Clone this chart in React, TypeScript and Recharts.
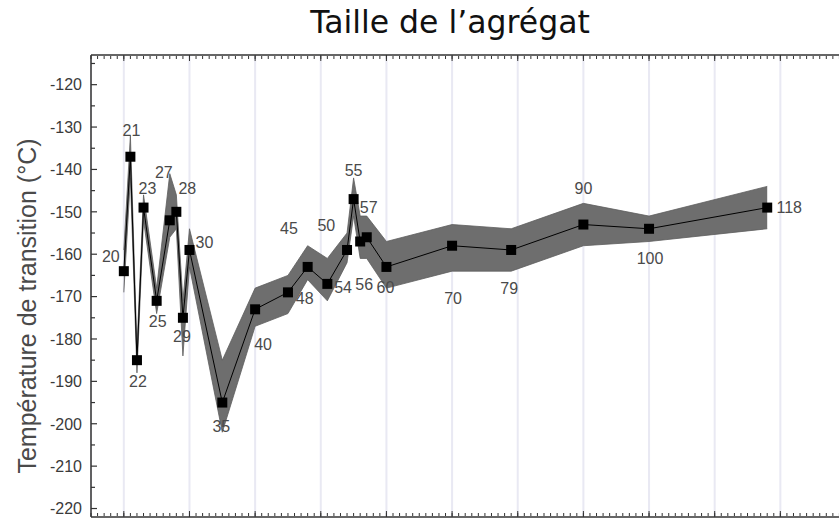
import React from 'react';
import { ComposedChart, Area, Line, XAxis, YAxis, CartesianGrid } from 'recharts';

// ---- data ----
const clusterLabels = ['20', '21', '22', '23', '25', '27', '28', '29', '30', '35', '40', '45', '48', '50', '54', '55', '56', '57', '60', '70', '79', '90', '100', '118'];
const clusterSizes = [20, 21, 22, 23, 25, 27, 28, 29, 30, 35, 40, 45, 48, 51, 54, 55, 56, 57, 60, 70, 79, 90, 100, 118];
const transitionTemps = [-164, -137, -185, -149, -171, -152, -150, -175, -159, -195, -173, -169, -163, -167, -159, -147, -157, -156, -163, -158, -159, -153, -154, -149];
const upperBound = [-159, -132, -182, -146, -168, -141, -146, -171, -154, -185, -168, -165, -158, -161, -155, -142, -151, -151, -157, -153, -154, -148, -151, -144];
const lowerBound = [-169, -142, -188, -152, -174, -156, -154, -184, -163, -202, -177, -174, -166, -171, -162, -151, -161, -161, -168, -164, -164, -158, -157, -154];

const majorXTicks = [20, 30, 40, 50, 60, 70, 80, 90, 100, 110, 120];
const minorXTicks = Array.from({ length: 116 }, (_, i) => 15 + i);
const yTickLabels = [-220, -210, -200, -190, -180, -170, -160, -150, -140, -130, -120];
const yMinorTicks = [-215, -205, -195, -185, -175, -165, -155, -145, -135, -125, -115];

// label placement relative to each marker (layout only)
const labelOffsets: [number, number][] = [
  [-13, -15], [1, -26], [1, 21], [4, -19], [1, 20], [-6, -48], [11, -24], [-1, 18],
  [15, -8], [-1, 24], [8, 35], [1, -64], [-3, 31], [-1, -59], [-4, 37], [0, -29],
  [4, 43], [2, -30], [-1, 20], [1, 53], [-2, 38], [0, -36], [1, 29], [22, 0],
];

const data = clusterSizes.map((s, i) => ({
  size: s,
  temp: transitionTemps[i],
  band: [lowerBound[i], upperBound[i]],
}));

const X_DOMAIN: [number, number] = [15, 130];
const Y_DOMAIN: [number, number] = [-222, -113];
const FONT = "'Liberation Sans', Arial, sans-serif";
const AXIS_COLOR = '#333';

const renderPoint = (props: any) => {
  const { cx, cy, index } = props;
  if (cx == null || cy == null) return <g key={`p${index}`} />;
  const [dx, dy] = labelOffsets[index] || [0, -20];
  return (
    <g key={`p${index}`}>
      <rect x={cx - 5} y={cy - 5} width={10} height={10} fill="#000" />
      <text x={cx + dx} y={cy + dy} dy="0.36em" textAnchor="middle" fontSize={16} fill="#4a4a4a" fontFamily={FONT}>
        {clusterLabels[index]}
      </text>
    </g>
  );
};

const makeXTick = (len: number, dir: number) => (props: any) => {
  const { x, y } = props;
  return <line x1={x} y1={y} x2={x} y2={y + dir * len} stroke={AXIS_COLOR} strokeWidth={1} />;
};

const LeftYTick = (props: any) => {
  const { x, y, payload } = props;
  const major = payload.value % 10 === 0;
  return (
    <g>
      <line x1={x} y1={y} x2={x + (major ? 6 : 4)} y2={y} stroke={AXIS_COLOR} strokeWidth={1.2} />
      {major && (
        <text x={x - 9} y={y} dy="0.36em" textAnchor="end" fontSize={16} fill="#3a3a3a" fontFamily={FONT}>
          {payload.value}
        </text>
      )}
    </g>
  );
};

const RightYTick = (props: any) => {
  const { x, y, payload } = props;
  const major = payload.value % 10 === 0;
  return <line x1={x} y1={y} x2={x - (major ? 6 : 4)} y2={y} stroke={AXIS_COLOR} strokeWidth={1.2} />;
};

const allYTicks = [...yTickLabels, ...yMinorTicks].sort((a, b) => a - b);

export default function App() {
  return (
    <div style={{ position: 'absolute', left: 0, top: 0, width: 839, height: 523, overflow: 'hidden', background: '#fff' }}>
      <div
        style={{
          position: 'absolute',
          left: 450,
          top: 3,
          transform: 'translateX(-50%)',
          fontFamily: "'DejaVu Sans', Verdana, sans-serif",
          fontSize: 31.5,
          color: '#111',
          whiteSpace: 'nowrap',
          lineHeight: '38px',
        }}
      >
        Taille de l’agrégat
      </div>
      <div
        style={{
          position: 'absolute',
          left: 27,
          top: 306,
          transform: 'translate(-50%, -50%) rotate(-90deg)',
          fontFamily: FONT,
          fontSize: 25,
          color: '#4a4a4a',
          whiteSpace: 'nowrap',
          lineHeight: '28px',
        }}
      >
        Température de transition (°C)
      </div>
      <ComposedChart
        width={860}
        height={523}
        data={data}
        margin={{ top: 55, right: 14, bottom: 6, left: 0 }}
        style={{ position: 'absolute', left: 0, top: 0 }}
      >
        <CartesianGrid horizontal={false} vertical stroke="#e9e9f3" strokeWidth={2} />
        <XAxis
          dataKey="size"
          type="number"
          domain={X_DOMAIN}
          allowDataOverflow
          ticks={majorXTicks}
          interval={0}
          orientation="bottom"
          mirror
          height={1}
          tickSize={0}
          tickMargin={0}
          tickLine={false}
          tick={makeXTick(6, -1)}
          axisLine={{ stroke: AXIS_COLOR, strokeWidth: 1.5 }}
        />
        <XAxis
          xAxisId="bm"
          dataKey="size"
          type="number"
          domain={X_DOMAIN}
          allowDataOverflow
          ticks={minorXTicks}
          interval={0}
          orientation="bottom"
          mirror
          height={1}
          tickSize={0}
          tickMargin={0}
          tickLine={false}
          tick={makeXTick(3, -1)}
          axisLine={false}
        />
        <XAxis
          xAxisId="t"
          dataKey="size"
          type="number"
          domain={X_DOMAIN}
          allowDataOverflow
          ticks={majorXTicks}
          interval={0}
          orientation="top"
          mirror
          height={1}
          tickSize={0}
          tickMargin={0}
          tickLine={false}
          tick={makeXTick(6, 1)}
          axisLine={{ stroke: AXIS_COLOR, strokeWidth: 1.5 }}
        />
        <XAxis
          xAxisId="tm"
          dataKey="size"
          type="number"
          domain={X_DOMAIN}
          allowDataOverflow
          ticks={minorXTicks}
          interval={0}
          orientation="top"
          mirror
          height={1}
          tickSize={0}
          tickMargin={0}
          tickLine={false}
          tick={makeXTick(3, 1)}
          axisLine={false}
        />
        <YAxis
          type="number"
          domain={Y_DOMAIN}
          allowDataOverflow
          ticks={allYTicks}
          interval={0}
          width={91}
          tickSize={0}
          tickMargin={0}
          tickLine={false}
          tick={LeftYTick}
          axisLine={{ stroke: AXIS_COLOR, strokeWidth: 1.5 }}
        />
        <YAxis
          yAxisId="r"
          type="number"
          domain={Y_DOMAIN}
          allowDataOverflow
          ticks={allYTicks}
          interval={0}
          orientation="right"
          mirror
          width={1}
          tickSize={0}
          tickMargin={0}
          tickLine={false}
          tick={RightYTick}
          axisLine={{ stroke: AXIS_COLOR, strokeWidth: 1.5 }}
        />
        <Area
          dataKey="band"
          type="linear"
          stroke="#5e5e5e"
          strokeWidth={0.8}
          fill="#6e6e6e"
          fillOpacity={1}
          isAnimationActive={false}
          activeDot={false}
        />
        <Line
          dataKey="temp"
          type="linear"
          stroke="#000"
          strokeWidth={1}
          dot={renderPoint}
          activeDot={false}
          isAnimationActive={false}
        />
      </ComposedChart>
    </div>
  );
}
